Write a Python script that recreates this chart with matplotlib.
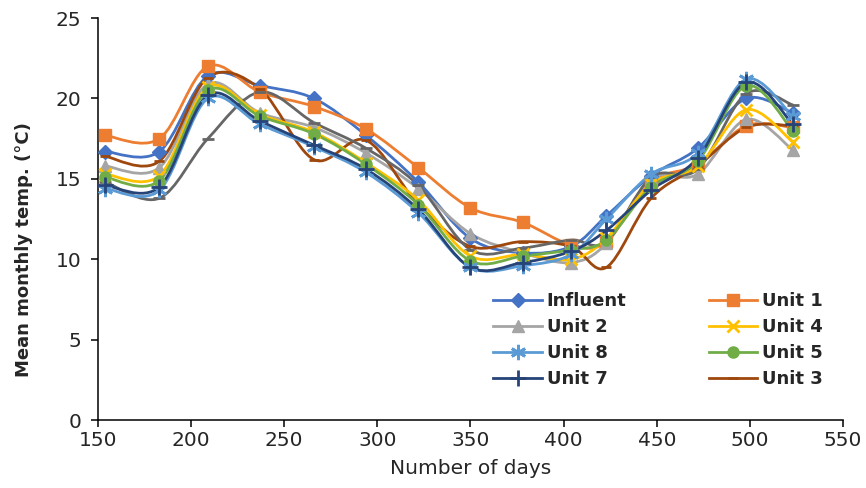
import numpy as np
import matplotlib
matplotlib.use("Agg")
import matplotlib.pyplot as plt
from matplotlib.path import Path
from matplotlib.patches import PathPatch
from matplotlib.lines import Line2D

# dias de amostragem
dias = [154, 183, 209, 237, 266, 294, 322, 350, 378, 404, 423, 447, 472, 498, 523]

influent = [16.7, 16.7, 21.4, 20.8, 20.0, 17.7, 14.8, 11.3, 10.4, 10.8, 12.7, 15.2, 16.9, 20.0, 19.1]
unit1 = [17.7, 17.5, 22.0, 20.4, 19.5, 18.1, 15.7, 13.2, 12.3, 10.9, 11.1, 14.8, 15.9, 18.3, 18.2]
unit2 = [15.8, 15.7, 20.9, 19.1, 18.2, 16.6, 14.4, 11.6, 10.4, 9.8, 11.0, 15.0, 15.3, 18.7, 16.8]
unit3 = [16.4, 16.1, 21.3, 20.6, 16.2, 17.4, 13.4, 10.8, 11.1, 10.8, 9.5, 13.8, 15.8, 18.2, 18.3]
unit4 = [15.3, 15.2, 20.7, 19.0, 17.9, 16.0, 13.7, 10.2, 10.3, 10.0, 11.3, 14.7, 15.8, 19.3, 17.3]
unit5 = [15.1, 14.9, 20.5, 18.9, 17.8, 15.9, 13.4, 9.9, 10.2, 10.6, 11.2, 14.5, 16.1, 20.8, 18.0]
unit6 = [14.8, 13.8, 17.5, 20.4, 18.5, 16.9, 14.6, 10.6, 10.7, 11.2, 11.1, 15.1, 15.6, 20.3, 19.6]
unit7 = [14.6, 14.5, 20.2, 18.6, 17.1, 15.6, 13.1, 9.5, 9.8, 10.5, 11.8, 14.3, 16.3, 21.0, 18.4]
unit8 = [14.4, 14.3, 20.0, 18.4, 17.0, 15.4, 12.9, 9.5, 9.6, 10.3, 12.5, 15.3, 16.6, 21.2, 18.9]

# (nome, valores, cor, marcador, tamanho, mostrar na legenda) - ordem de desenho
series = [
    ("Influent", influent, "#4472C4", "D", 7, True),
    ("Unit 1", unit1, "#ED7D31", "s", 9, True),
    ("Unit 2", unit2, "#A5A5A5", "^", 9, True),
    ("Unit 3", unit3, "#9E480E", "_", 7, True),
    ("Unit 6", unit6, "#666666", "_", 8, False),
    ("Unit 4", unit4, "#FFC000", "x", 9, True),
    ("Unit 5", unit5, "#70AD47", "o", 8, True),
    ("Unit 8", unit8, "#5B9BD5", (6, 2, 0), 11, True),
    ("Unit 7", unit7, "#264478", "+", 12, True),
]

ordem_legenda = ["Influent", "Unit 2", "Unit 8", "Unit 7", "Unit 1", "Unit 4", "Unit 5", "Unit 3"]


def curvaSuave(x, y):
    # linha suavizada tipo Excel (Bezier com tangentes de Catmull-Rom)
    p = np.column_stack([x, y]).astype(float)
    n = len(p)
    verts = [p[0]]
    codes = [Path.MOVETO]
    for i in range(n - 1):
        p0 = p[max(i - 1, 0)]
        p1 = p[i]
        p2 = p[i + 1]
        p3 = p[min(i + 2, n - 1)]
        verts += [p1 + (p2 - p0) / 6, p2 - (p3 - p1) / 6, p2]
        codes += [Path.CURVE4] * 3
    return Path(verts, codes)


plt.rcParams["font.family"] = "DejaVu Sans"
cor_texto = "#262626"

fig = plt.figure(figsize=(8.66, 4.88), dpi=100)
ax = fig.add_axes([0.113, 0.139, 0.8605, 0.824])

handles = {}
for nome, vals, cor, mk, ms, leg in series:
    ax.add_patch(PathPatch(curvaSuave(dias, vals), facecolor="none",
                           edgecolor=cor, lw=2.0, capstyle="round", zorder=2))
    mew = 2.0 if mk in ("x", "+", "_") or isinstance(mk, tuple) else 1
    ax.plot(dias, vals, linestyle="none", marker=mk, markersize=ms,
            color=cor, markeredgewidth=mew, zorder=3)
    if leg:
        handles[nome] = Line2D([], [], color=cor, lw=2.0, marker=mk,
                               markersize=ms, markeredgewidth=mew)

ax.set_xlim(150, 550)
ax.set_ylim(0, 25)
ax.set_xticks(np.arange(150, 551, 50))
ax.set_yticks(np.arange(0, 26, 5))

for s in ["top", "right"]:
    ax.spines[s].set_visible(False)
for s in ["left", "bottom"]:
    ax.spines[s].set_linewidth(1.1)
    ax.spines[s].set_color("black")

ax.tick_params(direction="out", length=5, width=1.1, labelsize=14.5,
               labelcolor=cor_texto)
ax.tick_params(axis="x", pad=3)
ax.tick_params(axis="y", pad=7)

ax.set_xlabel("Number of days", fontsize=14.5, color=cor_texto, labelpad=6)
ax.set_ylabel("Mean monthly temp. (°C)", fontsize=13, fontweight="bold",
              color=cor_texto)
ax.yaxis.set_label_coords(-0.087, 0.425)

leg = ax.legend([handles[k] for k in ordem_legenda], ordem_legenda, ncol=2,
                loc="lower right", bbox_to_anchor=(0.987, 0.052), frameon=False,
                prop={"size": 13, "weight": "bold"}, handlelength=2.7,
                handletextpad=0.25, labelspacing=0.45, columnspacing=4.55,
                borderaxespad=0.2)
for t in leg.get_texts():
    t.set_color(cor_texto)

fig.savefig("out.png", dpi=100)
